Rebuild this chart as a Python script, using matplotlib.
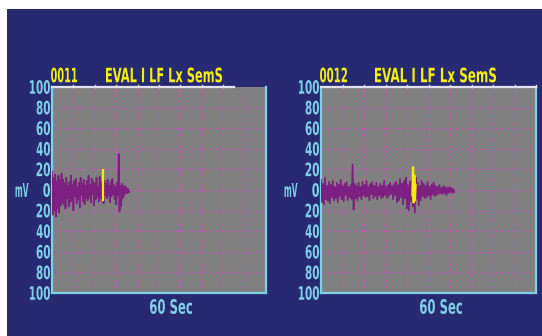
import matplotlib
matplotlib.use("Agg")
import matplotlib.pyplot as plt
from matplotlib.patches import Rectangle, PathPatch
from matplotlib.textpath import TextPath
from matplotlib.font_manager import FontProperties
from matplotlib.transforms import Affine2D
import numpy as np

# ── colours ──────────────────────────────────────────────────────────────────
NAVY = "#272a70"
FACE = "#808080"
CYAN = "#7fcfe6"
YELLOW = "#f4ee10"
PURPLE = "#7e1f82"
GRID = "#d050c8"

# ── data ─────────────────────────────────────────────────────────────────────
y_ticks = [100, 80, 60, 40, 20, 0, -20, -40, -60, -80, -100]
y_labels = ["100", "80", "60", "40", "20", "0", "20", "40", "60", "80", "100"]

titles = [("0011", "EVAL I LF Lx SemS"), ("0012", "EVAL I LF Lx SemS")]

# left trace (0011): end of recording in divisions, samples in mV
sig1_end = 3.6
sig1 = [18, -24, 12, -20, 15, -26, 8, -18, 14, -22, 10, -15, 16, -12,
        10, -14, 6, -18, 12, -8, 4, -16, 8, -12, 14, -10, 5, -20, 9, -6,
        11, -13, 3, -9, 7, -17, 12, -5, 6, -11, 10, -14, 4, -8,
        9, -10, 14, -7, 5, -12, 11, -4, 8, -15, 6, -9, 12, -6, 3, -11,
        13, -8, 7, -10, 4, -13, 9, -5,
        6, -8, 10, -5, 4, -12, 8, -6, 11, -4, 5, -9, 3, -14, 7, -5,
        35, -21, 4, -16, 6, -8, 3, -5, 4, -3, 2, -3, 1, -2]
mark1_x = [2.38, 2.38]
mark1_y = [19, -10]

# right trace (0012)
sig2_end = 6.2
sig2 = [10, -12, 6, -14, 12, -9, 4, -11, 8, -13, 5, -7, 9, -10,
        3, -8, 7, -12, 5, -6, 10, -9, 4, -11, 6, -5, 8, -10, 3, -7,
        5, -9, 25, -19, 6, -8, 4, -10, 7, -6, 3, -9, 8, -5,
        5, -7, 9, -6, 3, -10, 6, -4, 8, -8, 4, -6, 7, -9, 3, -5,
        6, -8, 4, -7, 9, -5, 3, -8, 5, -6, 7, -4, 4, -9, 6, -5,
        8, -12, 5, -10, 11, -7, 6, -14, 9, -8, 12, -18, 5, -20, 8, -11,
        10, -16, 6, -22, 12, -9, 7, -15, 4, -10, 9, -6,
        6, -8, 4, -7, 8, -5, 3, -9, 5, -4, 7, -6,
        4, -5, 3, -4, 5, -3, 2, -4, 4, -3, 3, -5, 2, -3, 3, -2, 2, -3, 1, -2]
mark2_x = [4.25, 4.28, 4.31, 4.34, 4.37, 4.40]
mark2_y = [-5, 22, -12, 14, -10, 5]

traces = [(sig1_end, sig1, mark1_x, mark1_y, 8.5),
          (sig2_end, sig2, mark2_x, mark2_y, 10.0)]

# ── figure ───────────────────────────────────────────────────────────────────
W, H = 542, 336
fig = plt.figure(figsize=(W / 100, H / 100), dpi=100, facecolor="white")
fig.patches.append(Rectangle((7 / W, 0), 535 / W, 327 / H, transform=fig.transFigure,
                             facecolor=NAVY, edgecolor="none", zorder=-10))

PROP = FontProperties(family="DejaVu Sans", weight="bold")


def lcd_text(s, x, y, w, h, color, ha="left", va="center"):
    """Tall narrow text, scaled into a w x h pixel box (y from the top)."""
    tp = TextPath((0, 0), s, size=20, prop=PROP)
    ext = tp.get_extents()
    sx, sy = w / ext.width, h / ext.height
    if ha == "left":
        x0 = x
    elif ha == "right":
        x0 = x - w
    else:
        x0 = x - w / 2
    yb = (H - y) - h / 2 if va == "center" else (H - y)
    tr = Affine2D().translate(-ext.x0, -ext.y0).scale(sx, sy).translate(x0, yb)
    fig.add_artist(PathPatch(tp, transform=tr, facecolor=color, edgecolor="none",
                             zorder=10))


axes_px = [(52, 87, 214, 206), (321, 87, 215, 206)]
title_px = [((51, 26), (106, 116)), ((320, 27), (375, 121))]
xlabel_px = [171, 441]

for i, ((x0, y0, w, h), (end, sig, mx, my, top_end)) in enumerate(zip(axes_px, traces)):
    ax = fig.add_axes([x0 / W, 1 - (y0 + h) / H, w / W, h / H])
    ax.set_facecolor(FACE)
    ax.set_xlim(0, 10)
    ax.set_ylim(-100, 100)

    for v in range(1, 10):
        ax.axvline(v, color=GRID, lw=0.9, ls=(0, (1.5, 3)), zorder=1)
    for v in y_ticks[1:-1]:
        ax.axhline(v, color=GRID, lw=0.9, ls=(0, (1.5, 3)), zorder=1)

    t = np.linspace(0, end, len(sig))
    ax.plot(t, sig, color=PURPLE, lw=1.2, zorder=3)
    ax.plot(mx, my, color=YELLOW, lw=1.6, zorder=4)

    for s in ["left", "right", "bottom"]:
        ax.spines[s].set_color(CYAN)
        ax.spines[s].set_linewidth(1.6)
    ax.spines["top"].set_visible(False)
    ax.plot([0, top_end], [100, 100], color="#e4e0f4", lw=1.6, clip_on=False, zorder=5)
    for v in range(1, int(top_end) + 1):
        ax.plot([v, v], [100, 102], color="#e4e0f4", lw=1.0, clip_on=False, zorder=5)

    ax.set_xticks([])
    ax.set_yticks([])

    # y tick labels, drawn as tall narrow text at each tick's pixel row
    for val, lab in zip(y_ticks, y_labels):
        yy = y0 + (100 - val) / 200 * h
        lcd_text(lab, x0 - 2, yy, 6.7 * len(lab), 14, CYAN, ha="right")

    (tx1, tw1), (tx2, tw2) = title_px[i]
    lcd_text(titles[i][0], tx1, 75, tw1, 15, YELLOW)
    lcd_text(titles[i][1], tx2, 75, tw2, 15, YELLOW)
    lcd_text("60 Sec", xlabel_px[i], 306.5, 42, 15, CYAN, ha="center")
    lcd_text("mV", 22 + (x0 - 52), 190, 13, 14, CYAN, ha="center")

fig.savefig("out.png", dpi=100, facecolor="white")
